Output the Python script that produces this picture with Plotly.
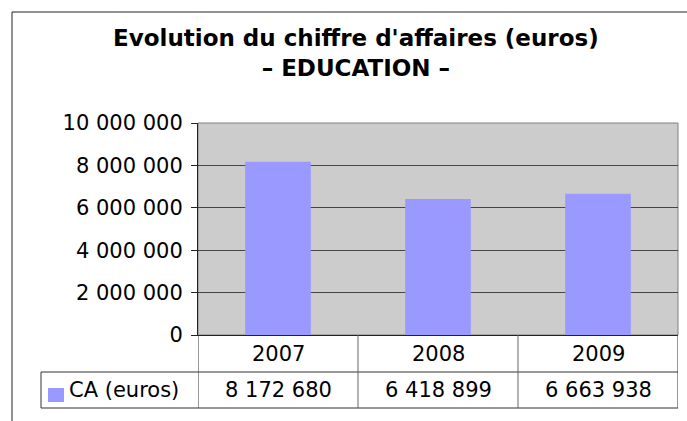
import plotly.graph_objects as go

# ---- data ----
years = ["2007", "2008", "2009"]
ca_values = [8172680, 6418899, 6663938]
series_name = "CA (euros)"
title_lines = ["Evolution du chiffre d'affaires (euros)", "\u2013 EDUCATION \u2013"]
y_tickvals = [0, 2000000, 4000000, 6000000, 8000000, 10000000]


def fmt(v):
    return f"{v:,}".replace(",", " ")


y_ticktext = [fmt(v) for v in y_tickvals]

# ---- layout geometry (pixels) ----
W, H = 687, 421
PL, PR, PT, PB = 198, 678, 123, 335  # plot area


def px_x(px):
    return (px - PL) / (PR - PL)


def px_y(py):
    return (PB - py) / (PB - PT)


BAR_COLOR = "#9999FF"
FONT = "DejaVu Sans"
TABLE_FONT = 21

fig = go.Figure()
fig.add_trace(go.Bar(
    x=years, y=ca_values, name=series_name,
    marker=dict(color=BAR_COLOR, line=dict(width=0)),
    showlegend=False, hoverinfo="x+y",
))

shapes = []
line_col = "#333333"
# outer frame
shapes.append(dict(type="rect", xref="paper", yref="paper",
                   x0=px_x(12), x1=px_x(720), y0=px_y(12), y1=px_y(440),
                   line=dict(color="#222222", width=1), fillcolor="rgba(0,0,0,0)", layer="below"))
# table horizontal lines
for py, x0 in [(372, 41), (408, 41)]:
    shapes.append(dict(type="line", xref="paper", yref="paper",
                       x0=px_x(x0), x1=px_x(PR), y0=px_y(py), y1=px_y(py),
                       line=dict(color=line_col, width=1)))
# table verticals at category boundaries
n = len(years)
for b in [-0.5 + i for i in range(n + 1)]:
    shapes.append(dict(type="line", xref="x", yref="paper",
                       x0=b, x1=b, y0=px_y(PB), y1=px_y(408),
                       line=dict(color=line_col if b in (-0.5, n - 0.5) else "#666666", width=1)))
# left border of series-name cell
shapes.append(dict(type="line", xref="paper", yref="paper",
                   x0=px_x(41), x1=px_x(41), y0=px_y(372), y1=px_y(408),
                   line=dict(color=line_col, width=1)))
# legend swatch
shapes.append(dict(type="rect", xref="paper", yref="paper",
                   x0=px_x(48), x1=px_x(64), y0=px_y(388), y1=px_y(402),
                   line=dict(width=0), fillcolor=BAR_COLOR))

annotations = []
annotations.append(dict(
    text="<b>" + title_lines[0] + "</b><br><b>" + title_lines[1] + "</b>",
    xref="paper", yref="paper", x=px_x(356), y=px_y(53),
    xanchor="center", yanchor="middle", showarrow=False,
    font=dict(family=FONT, size=23, color="black"),
))
for i, (yr, v) in enumerate(zip(years, ca_values)):
    annotations.append(dict(text=yr, xref="x", yref="paper", x=i, y=px_y(353.5),
                            xanchor="center", yanchor="middle", showarrow=False,
                            font=dict(family=FONT, size=TABLE_FONT, color="black")))
    annotations.append(dict(text=fmt(v), xref="x", yref="paper", x=i, y=px_y(390),
                            xanchor="center", yanchor="middle", showarrow=False,
                            font=dict(family=FONT, size=TABLE_FONT, color="black")))
annotations.append(dict(text=series_name, xref="paper", yref="paper", x=px_x(67), y=px_y(390),
                        xanchor="left", yanchor="middle", showarrow=False,
                        font=dict(family=FONT, size=TABLE_FONT, color="black")))

fig.update_layout(
    width=W, height=H, autosize=False,
    margin=dict(l=PL, r=W - PR, t=PT, b=H - PB, pad=0),
    paper_bgcolor="white", plot_bgcolor="#CCCCCC",
    bargap=0.59,
    shapes=shapes, annotations=annotations,
    font=dict(family=FONT, size=21, color="black"),
)
fig.update_xaxes(type="category", showticklabels=False, showgrid=False, zeroline=False,
                 showline=True, linecolor="#222222", linewidth=1, mirror=False,
                 range=[-0.5, n - 0.5], fixedrange=True)
fig.update_yaxes(range=[0, 10000000], tickvals=y_tickvals, ticktext=y_ticktext,
                 showgrid=True, gridcolor="#444444", gridwidth=1, zeroline=False,
                 showline=True, linecolor="#222222", linewidth=1,
                 ticks="outside", ticklen=6, tickcolor="#222222",
                 ticklabelstandoff=4,
                 tickfont=dict(family=FONT, size=21, color="black"), fixedrange=True)
# top/right plot border (gray)
fig.add_shape(type="rect", xref="paper", yref="paper", x0=0, x1=1, y0=0, y1=1,
              line=dict(color="#808080", width=1), fillcolor="rgba(0,0,0,0)", layer="below")

fig.write_html("out.html", config={"displayModeBar": False},
               post_script="document.body.style.margin='0';document.body.style.overflow='hidden';")
